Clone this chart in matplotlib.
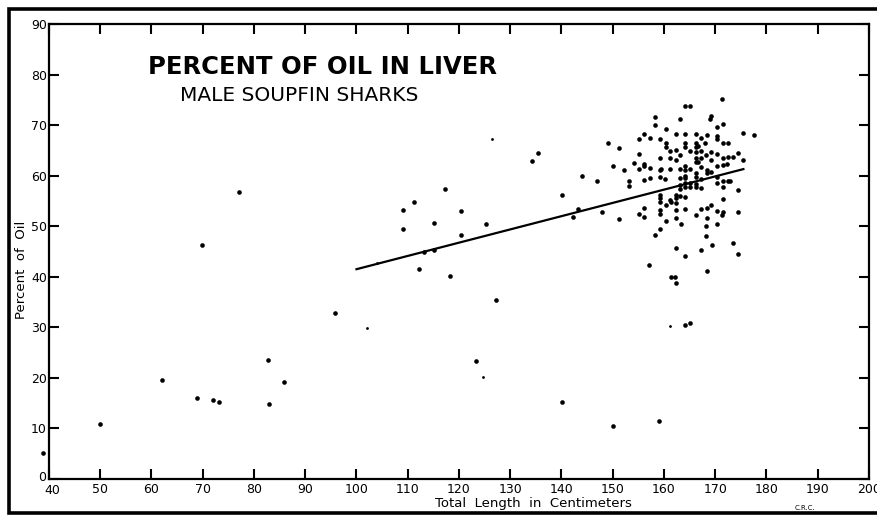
import matplotlib.pyplot as plt
from matplotlib.lines import Line2D
from matplotlib.transforms import ScaledTranslation

# scattered fish outside the main size class (length cm, percent oil)
spread_len = [38.9, 50.0, 62.0, 68.8, 69.8, 72.1, 73.2, 77.1, 82.8, 82.9,
              85.9, 95.9, 109.1, 109.1, 111.3, 112.2, 113.2, 115.2, 115.2, 117.3,
              118.2, 120.3, 120.3, 123.3, 125.3, 127.2, 134.3, 135.4, 140.1, 140.2,
              142.2, 143.2, 144.1, 146.9, 150.1, 159.1]
spread_oil = [5.1, 10.8, 19.6, 16.0, 46.3, 15.6, 15.2, 56.7, 23.6, 14.8,
              19.1, 32.9, 53.3, 49.4, 54.8, 41.5, 45.0, 50.6, 45.3, 57.4,
              40.1, 53.1, 48.3, 23.4, 50.5, 35.5, 62.9, 64.5, 56.2, 15.3,
              51.8, 53.5, 59.9, 59.0, 10.5, 11.5]

# adult males, 148-178 cm
adult_len = [149.1, 151.3, 150.1, 152.2, 154.2, 153.2, 153.2, 148.0, 151.3, 155.2,
             155.2, 155.2, 155.2, 156.2, 156.1, 156.1, 156.2, 156.2, 156.2, 157.2,
             157.2, 157.2, 157.1, 158.3, 158.2, 158.2, 159.2, 159.2, 159.2, 159.5,
             159.2, 159.2, 159.2, 159.2, 159.2, 159.2, 159.2, 160.3, 160.3, 160.3,
             160.2, 160.3, 160.3, 161.2, 161.2, 161.2, 161.2, 161.3, 161.3, 162.3,
             162.3, 162.3, 162.3, 162.3, 162.3, 162.3, 162.3, 162.3, 162.2, 162.4,
             163.1, 163.1, 163.1, 163.1, 163.1, 163.1, 163.1, 163.3, 164.2, 164.2,
             164.2, 164.2, 164.2, 164.2, 164.1, 164.1, 164.2, 164.2, 164.2, 164.2,
             164.2, 164.2, 165.1, 165.1, 165.1, 165.1, 165.1, 165.1, 166.2, 166.2,
             166.7, 166.2, 166.2, 166.2, 166.2, 166.7, 166.2, 166.3, 166.2, 166.2,
             166.3, 167.2, 167.2, 167.2, 167.2, 167.2, 167.2, 167.2, 167.2, 168.3,
             168.1, 168.2, 168.3, 168.3, 168.3, 168.3, 168.2, 168.2, 168.3, 169.1,
             169.0, 169.2, 169.2, 169.2, 169.2, 169.3, 170.3, 170.3, 170.3, 170.3,
             170.3, 170.3, 170.3, 170.3, 170.4, 171.4, 171.5, 171.5, 171.5, 171.5,
             171.5, 171.5, 171.5, 171.5, 171.4, 172.4, 172.4, 172.3, 172.4, 172.9,
             173.5, 173.4, 174.5, 174.4, 174.4, 174.5, 175.5, 175.5, 177.5]
adult_oil = [66.5, 65.4, 62.0, 61.2, 62.6, 59.0, 58.0, 52.9, 51.4, 67.3,
             64.2, 61.4, 52.4, 68.3, 62.4, 61.9, 59.2, 53.6, 51.9, 67.5,
             61.5, 59.5, 42.3, 71.7, 70.0, 48.3, 67.3, 63.5, 61.1, 61.3,
             59.7, 56.2, 55.5, 54.8, 53.3, 52.4, 49.4, 69.2, 66.5, 65.7,
             59.3, 54.2, 51.0, 64.9, 63.4, 61.4, 55.2, 54.8, 39.9, 68.3,
             65.1, 63.0, 56.2, 55.5, 54.5, 53.3, 51.7, 45.6, 39.9, 38.8,
             71.3, 64.0, 61.4, 59.5, 58.1, 57.3, 56.0, 50.4, 73.7, 68.3,
             66.4, 65.6, 62.0, 61.1, 60.0, 59.5, 58.5, 57.7, 55.8, 53.5,
             44.2, 30.4, 73.7, 64.8, 61.4, 58.5, 57.7, 30.9, 68.3, 66.4,
             65.9, 65.6, 64.6, 63.4, 62.8, 62.8, 60.6, 59.8, 58.3, 57.7,
             52.2, 67.5, 64.8, 63.4, 61.8, 59.4, 57.5, 53.5, 45.3, 68.0,
             66.5, 64.0, 61.1, 60.6, 53.7, 51.7, 50.0, 48.1, 41.2, 71.8,
             71.3, 64.6, 63.1, 60.8, 54.2, 46.3, 69.6, 67.8, 67.2, 64.2,
             61.9, 59.7, 58.6, 53.1, 50.4, 75.2, 70.3, 66.4, 63.4, 62.2,
             59.0, 57.8, 55.3, 52.9, 52.2, 66.4, 63.7, 62.4, 59.0, 59.0,
             63.7, 46.7, 64.5, 57.2, 52.9, 44.5, 68.4, 63.0, 68.0]

# faint (small) dots
faint_len = [102.0, 104.1, 124.7, 126.4, 161.2]
faint_oil = [29.9, 42.8, 20.1, 67.2, 30.3]

# fitted trend line
trend_len = [100.0, 175.5]
trend_oil = [41.5, 61.3]

x_ticks = list(range(40, 201, 10))
y_ticks = list(range(0, 91, 10))

fig = plt.figure(figsize=(8.78, 5.15), dpi=100)
ax = fig.add_axes([0.0558, 0.0699, 0.9339, 0.8835])

ax.scatter(spread_len + adult_len, spread_oil + adult_oil, s=11, color='black',
           linewidths=0, clip_on=False, zorder=3)
ax.scatter(faint_len, faint_oil, s=4, color='black', linewidths=0, zorder=3)
ax.plot(trend_len, trend_oil, color='black', lw=1.6, zorder=2)

ax.set_xlim(40, 200)
ax.set_ylim(0, 90)
ax.set_xticks(x_ticks)
ax.set_yticks(y_ticks)
ax.tick_params(direction='in', length=7, width=1.5, labelsize=9,
               top=True, right=True, colors='black')
ax.tick_params(axis='x', pad=3)
ax.tick_params(axis='y', pad=1.5)
for side in ax.spines.values():
    side.set_linewidth(1.6)

# the corner labels "0" and "40" sit a little apart
y0 = ax.yaxis.get_major_ticks()[0].label1
y0.set_transform(y0.get_transform() + ScaledTranslation(-1 / 100, 3 / 100, fig.dpi_scale_trans))
x0 = ax.xaxis.get_major_ticks()[0].label1
x0.set_transform(x0.get_transform() + ScaledTranslation(3 / 100, -1 / 100, fig.dpi_scale_trans))

fig.text(0.1686, 0.8563, 'PERCENT OF OIL IN LIVER', fontsize=17.5,
         fontweight='bold', ha='left', va='baseline')
fig.text(0.205, 0.8045, 'MALE SOUPFIN SHARKS', fontsize=14.5,
         ha='left', va='baseline')
fig.text(0.025, 0.4757, 'Percent  of  Oil', rotation=90, fontsize=9.5,
         ha='center', va='center')
fig.text(0.607, 0.022, 'Total  Length  in  Centimeters', fontsize=9.5,
         ha='center', va='center')
fig.text(0.917, 0.0136, 'C.R.C.', fontsize=5, ha='center', va='center')

# heavy border round the plate, open on the right
fig.add_artist(Line2D([0.9995, 0.0103, 0.0103, 0.9995], [0.9825, 0.9825, 0.004, 0.004],
                      transform=fig.transFigure, color='black', lw=2.6,
                      solid_joinstyle='miter', solid_capstyle='butt'))

fig.savefig('out.png', dpi=100)
